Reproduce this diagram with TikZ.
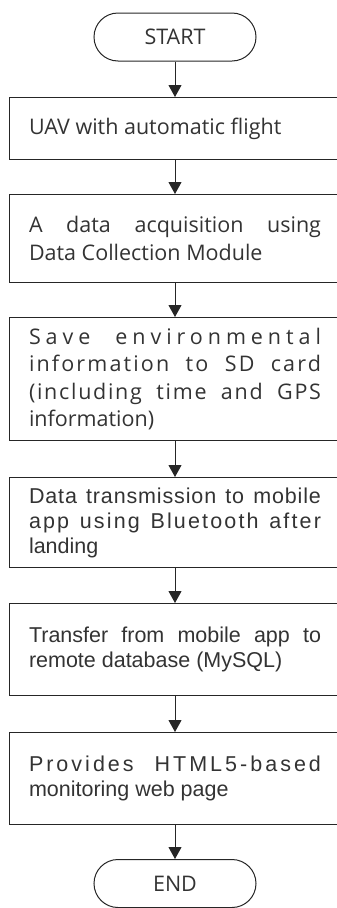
\documentclass[tikz,border=0pt]{standalone}
\usepackage{fontspec}
\setmainfont{Open Sans}
\newfontfamily\arialfont{Liberation Sans}
\usetikzlibrary{arrows.meta}
\newcommand\spreadln[2]{\makebox[\linewidth][s]{\addfontfeature{LetterSpace=#1}#2}}

\begin{document}
\begin{tikzpicture}[x=1pt, y=-1pt,
    outl/.style={draw=black!85, line width=1pt},
    term/.style={outl, rounded corners=24pt, minimum width=162pt, minimum height=48pt, inner sep=0pt, text=black!80, font=\fontsize{21.5}{27}\selectfont},
    stepbox/.style={outl, rectangle, minimum width=332pt, text width=292pt, inner xsep=20pt, inner ysep=0pt, align=justify, text=black!80, anchor=north},
    okfont/.style={font=\fontsize{21.5}{27.5}\selectfont},
    arfont/.style={font=\arialfont\fontsize{21.5}{25}\selectfont},
    arr/.style={outl, -{Triangle[length=12pt, width=13pt]}}]
    \useasboundingbox (0, 0) rectangle (337, 908);

    % ---terminals
    \node[term] (start) at (175, 37) {START};
    \node[term] (end) at (175, 883.5) {END};

    % ---steps
    \node[stepbox, okfont, minimum height=62pt] (uav) at (175, 97) {UAV with automatic flight};
    \node[stepbox, okfont, minimum height=88pt] (acq) at (175, 194) {\spreadln{0}{A data acquisition using}\\ Data Collection Module};
    \node[stepbox, okfont, minimum height=123pt] (save) at (175, 317) {\spreadln{23}{Save environmental}\\ \spreadln{10}{information to SD card}\\ \spreadln{8}{(including time and GPS}\\ information)};
    \node[stepbox, arfont, minimum height=90pt] (send) at (175, 477) {\spreadln{4}{Data transmission to mobile}\\ \spreadln{10}{app using Bluetooth after}\\ landing};
    \node[stepbox, arfont, minimum height=92pt] (db) at (175, 603) {\spreadln{0}{Transfer from mobile app to}\\ remote database (MySQL)};
    \node[stepbox, arfont, minimum height=92pt] (web) at (175, 732) {\spreadln{14}{Provides HTML5-based}\\ monitoring web page};

    % ---flow
    \draw[arr] (start.south) -- (uav.north);
    \draw[arr] (uav.south) -- (acq.north);
    \draw[arr] (acq.south) -- (save.north);
    \draw[arr] (save.south) -- (send.north);
    \draw[arr] (send.south) -- (db.north);
    \draw[arr] (db.south) -- (web.north);
    \draw[arr] (web.south) -- (end.north);
\end{tikzpicture}
\end{document}
